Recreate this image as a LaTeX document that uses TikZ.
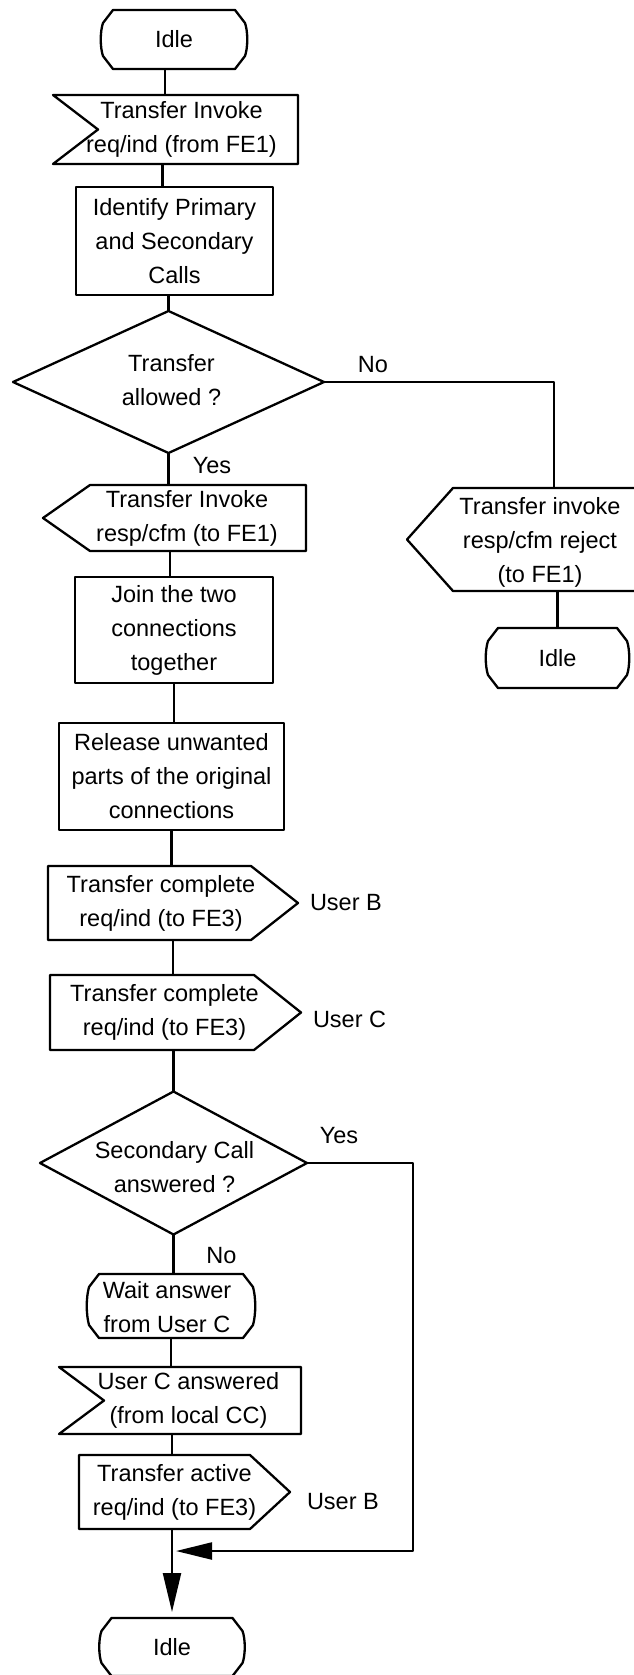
\documentclass[tikz,border=0pt]{standalone}
\usepackage{fontspec}
\setmainfont{Liberation Sans}
\usetikzlibrary{calc,arrows.meta}
\newcommand{\sdlstate}[1]{%
  \draw ($(#1.north west)+(13,0)$) -- ($(#1.north east)+(-13,0)$) -- ($(#1.north east)+(-3,13)$)
    .. controls ($(#1.east)+(0,-8)$) and ($(#1.east)+(0,8)$) .. ($(#1.south east)+(-3,-13)$)
    -- ($(#1.south east)+(-13,0)$) -- ($(#1.south west)+(13,0)$) -- ($(#1.south west)+(3,-13)$)
    .. controls ($(#1.west)+(0,8)$) and ($(#1.west)+(0,-8)$) .. ($(#1.north west)+(3,13)$) -- cycle;}
\newcommand{\sdlinput}[2]{%
  \draw (#1.north west) -- (#1.north east) -- (#1.south east) -- (#1.south west) -- ($(#1.west)+(#2,0)$) -- cycle;}
\newcommand{\sdloutL}[2]{%
  \draw ($(#1.north west)+(#2,0)$) -- (#1.north east) -- (#1.south east) -- ($(#1.south west)+(#2,0)$) -- (#1.west) -- cycle;}
\newcommand{\sdloutR}[2]{%
  \draw (#1.north west) -- ($(#1.north east)+(-#2,0)$) -- (#1.east) -- ($(#1.south east)+(-#2,0)$) -- (#1.south west) -- cycle;}
\newcommand{\sdldec}[1]{%
  \draw (#1.north) -- (#1.east) -- (#1.south) -- (#1.west) -- cycle;}
\begin{document}
\begin{tikzpicture}[x=1pt,y=-1pt,line width=2.3pt,line join=round,
  txt/.style={inner sep=0pt,outer sep=0pt,align=center,font=\fontsize{23.5}{34}\selectfont},
  shp/.style 2 args={txt,draw=none,minimum width=#1pt,minimum height=#2pt},
  box/.style 2 args={txt,draw,minimum width=#1pt,minimum height=#2pt},
  bigarrow/.style={-{Triangle[length=39pt,width=18pt]}},
  sidearrow/.style={-{Triangle[length=36pt,width=17pt]}}]
\useasboundingbox (0,0) rectangle (634,1675);
\clip (0,0) rectangle (634,1675);

% main column
\node[shp={148}{59}] (idle1) at (174,39.5) {Idle};
\sdlstate{idle1}
\node[shp={245}{69}] (in1) at (175.5,129.5) {};
\sdlinput{in1}{45}
\node[txt] (in1t) at ($(in1.center)+(6,0)$) {Transfer Invoke\\req/ind (from FE1)};
\node[box={197}{108}] (box1) at (174.5,241) {Identify Primary\\and Secondary\\Calls};
\node[shp={311}{142}] (dec1) at (168.5,382) {};
\sdldec{dec1}
\node[txt] (dec1t) at ($(dec1.center)+(3,-2)$) {Transfer\\allowed ?};
\node[shp={263}{66}] (out1) at (174.5,518) {};
\sdloutL{out1}{47}
\node[txt] (out1t) at ($(out1.center)+(12.5,0)$) {Transfer Invoke\\resp/cfm (to FE1)};
\node[box={198}{106}] (box2) at (174,630) {Join the two\\connections\\together};
\node[box={225}{107}] (box3) at (171.5,776.5) {Release unwanted\\parts of the original\\connections};
\node[shp={250}{74}] (outB) at (173,903) {};
\sdloutR{outB}{47}
\node[txt] (outBt) at ($(outB.center)+(-12,0)$) {Transfer complete\\req/ind (to FE3)};
\node[txt,anchor=west] (userB1) at ($(outB.east)+(12,0)$) {User B};
\node[shp={251}{75}] (outC) at (175.5,1012.5) {};
\sdloutR{outC}{47}
\node[txt] (outCt) at ($(outC.center)+(-11,0)$) {Transfer complete\\req/ind (to FE3)};
\node[txt,anchor=west] (userC) at ($(outC.east)+(12,7)$) {User C};
\node[shp={267}{143}] (dec2) at (173.5,1163) {};
\sdldec{dec2}
\node[txt] (dec2t) at ($(dec2.center)+(1,4)$) {Secondary Call\\answered ?};
\node[shp={170}{64}] (wait) at (171,1306) {};
\sdlstate{wait}
\node[txt] (waitt) at ($(wait.center)+(-4,1)$) {Wait answer\\from User C};
\node[shp={242}{67}] (inC) at (180,1400.5) {};
\sdlinput{inC}{45}
\node[txt] (inCt) at ($(inC.center)+(8.5,0)$) {User C answered\\(from local CC)};
\node[shp={211}{74}] (outA) at (184.5,1492) {};
\sdloutR{outA}{40}
\node[txt] (outAt) at ($(outA.center)+(-10,0)$) {Transfer active\\req/ind (to FE3)};
\node[txt,anchor=west] (userB2) at ($(outA.east)+(17,10)$) {User B};
\node[shp={147}{58}] (idle3) at (172,1647) {Idle};
\sdlstate{idle3}

% right branch
\node[shp={266}{103}] (rej) at (540,539.5) {};
\sdloutL{rej}{46}
\node[txt] (rejt) at ($(rej.center)+(0,3)$) {Transfer invoke\\resp/cfm reject\\(to FE1)};
\node[shp={145}{60}] (idle2) at (557.5,658) {Idle};
\sdlstate{idle2}

% labels
\node[txt] (no1) at (373,365) {No};
\node[txt] (yes1) at (212,466) {Yes};
\node[txt] (yes2) at (339,1136) {Yes};
\node[txt] (no2) at (221.5,1256) {No};

% helper coordinates
\coordinate (rejin) at (554,488);
\coordinate (yesturn) at (413,1551);
\coordinate (yesend) at (176,1551);

% connectors
\draw ($(idle1.south)+(-9,0)$) -- ($(idle1.south |- in1.north)+(-9,0)$);
\draw ($(in1.south)+(-13,0)$) -- ($(in1.south |- box1.north)+(-13,0)$);
\draw (dec1.north |- box1.south) -- (dec1.north);
\draw (dec1.south) -- (dec1.south |- out1.north);
\draw (dec1.east) -| (rejin);
\draw (idle2.north |- rej.south) -- (idle2.north);
\draw ($(out1.south)+(-4.5,0)$) -- ($(out1.south |- box2.north)+(-4.5,0)$);
\draw (box2.south) -- (box2.south |- box3.north);
\draw (box3.south) -- (box3.south |- outB.north);
\draw (outB.south) -- (outB.south |- outC.north);
\draw (dec2.north |- outC.south) -- (dec2.north);
\draw (dec2.south) -- (dec2.south |- wait.north);
\draw (wait.south) -- (wait.south |- inC.north);
\draw (idle3.north |- inC.south) -- (idle3.north |- outA.north);
\draw[bigarrow,shorten >=6pt] (idle3.north |- outA.south) -- (idle3.north);
\draw[sidearrow] (dec2.east) -| (yesturn) -- (yesend);
\end{tikzpicture}
\end{document}
